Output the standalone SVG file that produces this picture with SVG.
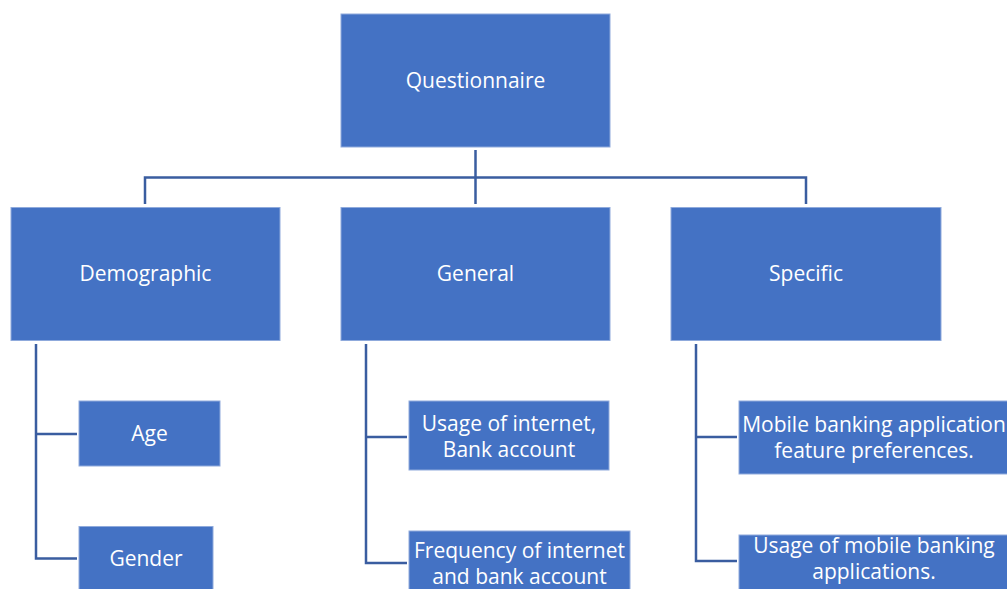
<svg xmlns="http://www.w3.org/2000/svg" width="1007" height="589" viewBox="0 0 1007 589">
<style>
.box{fill:#4472C4;stroke:#8FAADC;stroke-width:1}
.lbl{fill:#ffffff;font-family:"Open Sans","Noto Sans",sans-serif;font-size:21px;text-anchor:middle}
.con{fill:none;stroke:#3A5DA0;stroke-width:2.5}
</style>
<rect width="1007" height="589" fill="#ffffff"/>
<g id="connectors">
<path class="con" d="M475.5 150V177.5M145 204V177.5H806V204M475.5 177.5V204"/>
<path class="con" d="M36 344V558.5H77M36 434H77"/>
<path class="con" d="M366 344V563H407M366 437H407"/>
<path class="con" d="M696 344V561H737M696 437H737"/>
</g>
<g id="questionnaire"><rect class="box" x="341" y="14" width="269" height="133"/><text class="lbl" x="475.5" y="88">Questionnaire</text></g>
<g id="demographic"><rect class="box" x="11" y="207.5" width="269" height="133"/><text class="lbl" x="145.5" y="281">Demographic</text></g>
<g id="general"><rect class="box" x="341" y="207.5" width="269" height="133"/><text class="lbl" x="475.5" y="281">General</text></g>
<g id="specific"><rect class="box" x="671" y="207.5" width="270" height="133"/><text class="lbl" x="806" y="281">Specific</text></g>
<g id="age"><rect class="box" x="79" y="401" width="141" height="65"/><text class="lbl" x="149.5" y="441">Age</text></g>
<g id="gender"><rect class="box" x="79" y="526.5" width="134" height="64"/><text class="lbl" x="146" y="566">Gender</text></g>
<g id="usage-internet"><rect class="box" x="409" y="401" width="200" height="69"/><text class="lbl" x="509" y="430.5">Usage of internet,</text><text class="lbl" x="509" y="456.5">Bank account</text></g>
<g id="frequency"><rect class="box" x="409" y="531" width="221" height="60"/><text class="lbl" x="519.5" y="558">Frequency of internet</text><text class="lbl" x="519.5" y="584">and bank account</text></g>
<g id="feature-preferences"><rect class="box" x="739" y="401" width="270" height="73"/><text class="lbl" x="874" y="432">Mobile banking application</text><text class="lbl" x="874" y="458">feature preferences.</text></g>
<g id="usage-mobile"><rect class="box" x="739" y="535" width="270" height="56"/><text class="lbl" x="874" y="553">Usage of mobile banking</text><text class="lbl" x="874" y="579">applications.</text></g>
</svg>
